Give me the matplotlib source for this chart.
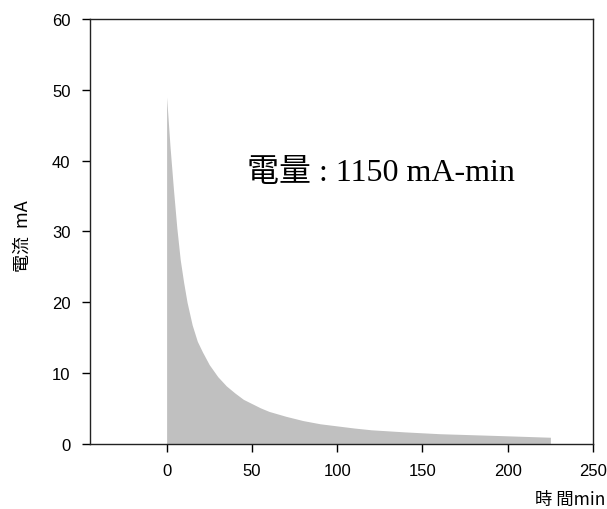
import matplotlib
matplotlib.use("Agg")
import matplotlib.pyplot as plt

# current decay over time
t = [0, 2, 4, 6, 8, 10, 12, 15, 18, 21, 25, 30, 35, 40, 45, 50, 55, 60,
     70, 80, 90, 100, 110, 120, 140, 160, 180, 200, 225]
current = [49, 42, 36, 30.5, 26, 22.8, 20, 16.8, 14.5, 13, 11.2, 9.5, 8.2, 7.2,
           6.3, 5.7, 5.1, 4.6, 3.9, 3.3, 2.85, 2.55, 2.25, 2.0, 1.7, 1.45,
           1.3, 1.15, 0.95]
xticks = [0, 50, 100, 150, 200, 250]
yticks = [0, 10, 20, 30, 40, 50, 60]
note = "電量 : 1150 mA-min"

plt.rcParams['font.family'] = ['Liberation Sans', 'Noto Sans CJK TC']

fig = plt.figure(figsize=(6.07, 5.10), dpi=100)
ax = fig.add_axes([0.148, 0.1275, 0.829, 0.8335])

ax.fill_between(t, current, 0, color="#c0c0c0", linewidth=0)

ax.set_xlim(-45, 250)
ax.set_ylim(0, 60)
ax.set_xticks(xticks)
ax.set_yticks(yticks)
ax.tick_params(direction="out", length=6, width=1, labelsize=12, pad=8)
for s in ax.spines.values():
    s.set_linewidth(1)
    s.set_color("#222222")

ax.text(47, 38.3, note, ha="left", va="center", fontsize=23,
        family=['Liberation Serif', 'Noto Sans CJK TC'])

fig.text(0.038, 0.537, "電流  mA", rotation=90, ha="center", va="center",
         fontsize=13, family=['Noto Sans CJK TC', 'Liberation Sans'])
fig.text(0.997, 0.02, "時 間min", ha="right", va="center", fontsize=12.5,
         family=['Noto Sans CJK TC', 'Liberation Sans'])

fig.savefig("out.png", dpi=100)
